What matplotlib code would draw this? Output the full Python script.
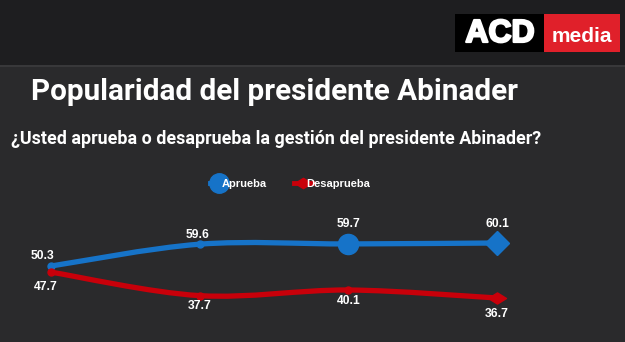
import matplotlib
matplotlib.use("Agg")
import matplotlib.pyplot as plt
import matplotlib.patheffects as pe
from matplotlib.path import Path
from matplotlib.patches import PathPatch, Rectangle
from matplotlib.lines import Line2D
import numpy as np

# Survey values (%)
rounds = [0, 1, 2, 3]
aprueba = [50.3, 59.6, 59.7, 60.1]
desaprueba = [47.7, 37.7, 40.1, 36.7]
series_names = ["Aprueba", "Desaprueba"]

title = "Popularidad del presidente Abinader"
subtitle = "¿Usted aprueba o desaprueba la gestión del presidente Abinader?"

BLUE = "#1673c8"
RED = "#c8000a"
BG = "#2a2a2c"
HEADER = "#1e1e20"

W, H = 625, 342


def fx(px):
    return px / W


def fy(py):
    return 1 - py / H


def smooth_path(xs, ys, k=1.0):
    # cubic bezier through the points (catmull-rom style tangents)
    pts = np.column_stack([xs, ys]).astype(float)
    verts = [pts[0]]
    codes = [Path.MOVETO]
    n = len(pts)
    for i in range(n - 1):
        p0 = pts[max(i - 1, 0)]
        p1 = pts[i]
        p2 = pts[i + 1]
        p3 = pts[min(i + 2, n - 1)]
        c1 = p1 + (p2 - p0) / 6 * k
        c2 = p2 - (p3 - p1) / 6 * k
        verts += [c1, c2, p2]
        codes += [Path.CURVE4] * 3
    return Path(verts, codes)


fig = plt.figure(figsize=(W / 100, H / 100), dpi=100)
fig.patch.set_facecolor(BG)

# header band and separator
fig.patches.append(Rectangle((0, fy(65)), 1, 1 - fy(65), transform=fig.transFigure,
                             facecolor=HEADER, edgecolor="none", zorder=0))
fig.add_artist(Line2D([0, 1], [fy(65.5), fy(65.5)], color="#3c3c3e", lw=1.2))

# logo
fig.patches.append(Rectangle((fx(455), fy(52)), fx(89), fy(14) - fy(52), transform=fig.transFigure,
                             facecolor="#000000", edgecolor="none"))
fig.patches.append(Rectangle((fx(544), fy(52)), fx(76), fy(14) - fy(52), transform=fig.transFigure,
                             facecolor="#e0202a", edgecolor="none"))
acd = fig.text(fx(500), fy(34), "ACD", color="white", fontsize=23, fontweight="bold",
               family="Liberation Sans", ha="center", va="center")
acd.set_path_effects([pe.withStroke(linewidth=1.6, foreground="white")])
fig.text(fx(582), fy(36), "media", color="white", fontsize=15, fontweight="bold",
         family="Liberation Sans", ha="center", va="center")

fig.text(fx(31), fy(92), title, color="white", fontsize=21.3, fontweight="bold",
         family="Roboto", ha="left", va="center")
fig.text(fx(11), fy(139), subtitle, color="white", fontsize=12.9, fontweight="bold",
         family="Roboto", ha="left", va="center")

# plot area: x=0 at px 51, x=3 at px 497; y=60.1 at px 243, 2.35 px per unit
x_lo, x_hi = -0.3, 3.3
y_lo, y_hi = 30, 65
ppu_x = (497 - 51) / 3
ppu_y = 2.35
left_px = 51 + x_lo * ppu_x
right_px = 51 + x_hi * ppu_x
top_px = 243 - (y_hi - 60.1) * ppu_y
bot_px = 243 + (60.1 - y_lo) * ppu_y
ax = fig.add_axes([fx(left_px), fy(bot_px), fx(right_px - left_px), fy(top_px) - fy(bot_px)])
ax.set_xlim(x_lo, x_hi)
ax.set_ylim(y_lo, y_hi)
ax.axis("off")
ax.patch.set_alpha(0)

flat_diamond = Path([(-1, 0), (0, 0.62), (1, 0), (0, -0.62), (-1, 0)],
                    [Path.MOVETO, Path.LINETO, Path.LINETO, Path.LINETO, Path.CLOSEPOLY])

blue_marks = [("o", 5), ("o", 5), ("o", 14.5), ("D", 12)]
red_marks = [("o", 5), ("o", 5), ("o", 5), (flat_diamond, 13)]
blue_off = [(-8, 10), (-2, 9), (0, 20), (0, 19)]
red_off = [(-5, -15), (0, -10), (0, -11), (0, -16)]

for vals, color, marks, offs in [(aprueba, BLUE, blue_marks, blue_off),
                                 (desaprueba, RED, red_marks, red_off)]:
    ax.add_patch(PathPatch(smooth_path(rounds, vals), facecolor="none", edgecolor=color,
                           lw=3.8, capstyle="round", zorder=2))
    for x, v, (m, ms), (dx, dy) in zip(rounds, vals, marks, offs):
        ax.plot([x], [v], marker=m, ms=ms, color=color, mec=color, zorder=3)
        ax.annotate(f"{v:.1f}", (x, v), xytext=(dx, dy), textcoords="offset pixels",
                    ha="center", va="center", color="white", fontsize=8.7,
                    fontweight="bold", family="Liberation Sans", zorder=4)

handles = [Line2D([], [], color=BLUE, lw=3.5, marker="o", ms=14, markevery=[1]),
           Line2D([], [], color=RED, lw=3.5, marker=flat_diamond, ms=12, markevery=[1])]
leg = fig.legend(handles, series_names, loc="center", bbox_to_anchor=(fx(290), fy(184)),
                 ncol=2, frameon=False, handlelength=1.6, handletextpad=-0.5,
                 columnspacing=2.4, labelcolor="white",
                 prop={"family": "Liberation Sans", "weight": "bold", "size": 8})
for t in leg.get_texts():
    t.set_zorder(5)

fig.savefig("out.png", dpi=100, facecolor=fig.get_facecolor())
